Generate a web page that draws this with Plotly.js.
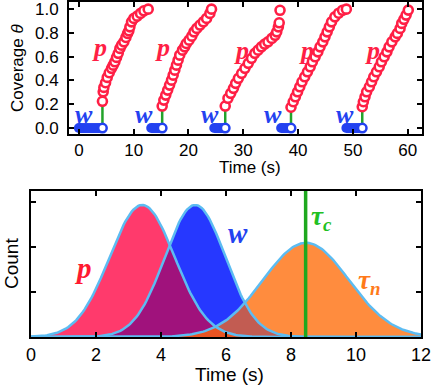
<!DOCTYPE html>
<html>
<head>
<meta charset="utf-8">
<script src="https://cdn.plot.ly/plotly-3.0.1.min.js"></script>
<style>html,body{margin:0;padding:0;background:#fff;}#chart{width:433px;height:385px;}</style>
</head>
<body>
<div id="chart"></div>
<script>
// ---------- Top panel: coverage vs time (five cycles) ----------
var wStart = [0.0, 13.2, 24.7, 36.9, 48.8];
var cycT1 = [4.3,4.44,4.56,4.87,5.17,5.54,5.96,6.26,6.57,6.87,7.18,7.48,7.79,8.21,8.58,8.88,9.12,9.31,9.61,10.04,10.64,11.25,11.86,12.65];
var cycC1 = [0.225,0.305,0.342,0.381,0.426,0.465,0.502,0.529,0.557,0.594,0.628,0.67,0.697,0.725,0.762,0.796,0.818,0.851,0.893,0.922,0.941,0.964,0.986,1.0];
var cycT2 = [15.2,15.5,15.85,16.2,16.55,16.9,17.2,17.5,17.8,18.1,18.4,18.9,19.3,19.6,20.1,20.6,21.0,21.5,22.1,22.7,23.3,23.9,24.2];
var cycC2 = [0.185,0.235,0.277,0.319,0.361,0.403,0.445,0.487,0.529,0.571,0.613,0.655,0.683,0.711,0.739,0.773,0.809,0.838,0.866,0.893,0.922,0.964,1.0];
var cycT3 = [26.7,27.2,27.7,28.2,28.6,29.1,29.7,30.3,30.9,31.5,32.1,32.7,33.3,33.9,34.5,35.2,35.8,36.1,36.4,36.55,36.7];
var cycC3 = [0.185,0.25,0.292,0.334,0.376,0.418,0.46,0.502,0.544,0.586,0.628,0.655,0.683,0.706,0.725,0.754,0.78,0.809,0.851,0.885,0.99];
var cycT4 = [38.7,39.1,39.5,39.9,40.3,40.7,41.2,41.7,42.2,42.6,43.1,43.6,44.0,44.5,44.9,45.3,45.7,46.1,46.7,47.4,48.1,48.8];
var cycC4 = [0.175,0.221,0.263,0.305,0.347,0.389,0.431,0.473,0.515,0.557,0.599,0.641,0.683,0.725,0.767,0.809,0.851,0.893,0.935,0.966,0.99,1.0];
var cycT5 = [51.7,51.9,52.2,52.5,53.0,53.4,53.8,54.3,54.8,55.2,55.7,56.2,56.6,57.1,57.7,58.1,58.6,58.9,59.3,59.7,60.1];
var cycC5 = [0.179,0.221,0.263,0.305,0.347,0.389,0.431,0.473,0.515,0.557,0.599,0.641,0.683,0.725,0.767,0.796,0.838,0.88,0.914,0.95,0.992];

var topXTicks = [0,10,20,30,40,50,60];
var topYTicks = [0,0.2,0.4,0.6,0.8,1.0];
var topYText = ['0.0','0.2','0.4','0.6','0.8','1.0'];

// ---------- Bottom panel: distributions (fitted Gaussians) ----------
var distNames = ['p','w','tn'];
var distMean  = [3.42, 5.05, 8.46];
var distSigma = [1.0, 0.93, 1.32];
var distPeak  = [2.93, 2.93, 2.09];
var tauC = 8.45;
var botXTicks = [0,2,4,6,8,10,12];
var botYTicks = [1,2,3];

var cycT = [cycT1,cycT2,cycT3,cycT4,cycT5];
var cycC = [cycC1,cycC2,cycC3,cycC4,cycC5];

var RED='#ff1f45', BLUE='#2342f0', GREEN='#22a32a';
var traces=[];
for (var i=0;i<5;i++){
  var tEnd = cycT[i][0];
  traces.push({x:[wStart[i],tEnd],y:[0,0],mode:'lines',line:{color:BLUE,width:10},xaxis:'x',yaxis:'y',hoverinfo:'skip'});
  traces.push({x:[wStart[i]],y:[0],mode:'markers',marker:{color:BLUE,size:10,line:{width:0}},xaxis:'x',yaxis:'y'});
  traces.push({x:[tEnd,tEnd],y:[0,cycC[i][0]],mode:'lines',line:{color:GREEN,width:2.5},xaxis:'x',yaxis:'y'});
  traces.push({x:[tEnd],y:[0],mode:'markers',marker:{color:'#ffffff',size:8.5,line:{color:BLUE,width:2.5}},xaxis:'x',yaxis:'y'});
  traces.push({x:cycT[i],y:cycC[i],mode:'markers',marker:{color:'#ffffff',size:9,line:{color:RED,width:2.6}},xaxis:'x',yaxis:'y'});
}

// Gaussian fit curves sampled on the bottom axis
var xs=[]; for (var k=0;k<=240;k++) xs.push(k*0.05);
function g(j,x){var d=x-distMean[j];return distPeak[j]*Math.exp(-d*d/(2*distSigma[j]*distSigma[j]));}
var ys=[0,1,2].map(function(j){return xs.map(function(x){return g(j,x);});});
function minArr(a,b){return a.map(function(v,i){return Math.min(v,b[i]);});}
var fillCols=['#ff3a6c','#2638ff','#ff8c3e'];
var order=[2,0,1];
order.forEach(function(j){
  traces.push({x:xs,y:ys[j],mode:'lines',line:{width:0},fill:'tozeroy',fillcolor:fillCols[j],xaxis:'x2',yaxis:'y2'});
});
traces.push({x:xs,y:minArr(ys[0],ys[1]),mode:'lines',line:{width:0},fill:'tozeroy',fillcolor:'#a0127c',xaxis:'x2',yaxis:'y2'});
traces.push({x:xs,y:minArr(ys[1],ys[2]),mode:'lines',line:{width:0},fill:'tozeroy',fillcolor:'#c25c52',xaxis:'x2',yaxis:'y2'});
traces.push({x:xs,y:minArr(ys[0],ys[2]),mode:'lines',line:{width:0},fill:'tozeroy',fillcolor:'#ea5422',xaxis:'x2',yaxis:'y2'});
[0,1,2].forEach(function(j){
  traces.push({x:xs,y:ys[j],mode:'lines',line:{color:'#5cbcf2',width:2.5},xaxis:'x2',yaxis:'y2'});
});
traces.push({x:[tauC,tauC],y:[0,3.24],mode:'lines',line:{color:'#1ea81e',width:3.5},xaxis:'x2',yaxis:'y2'});

var sans='Liberation Sans, Arial, sans-serif';
var axCommon={showline:true,linewidth:2,linecolor:'#000',mirror:'ticks',ticks:'inside',ticklen:5,tickwidth:2,tickcolor:'#000',showgrid:false,zeroline:false,tickfont:{family:sans,size:17,color:'#000'}};
function ax(o){var r={};for(var k in axCommon)r[k]=axCommon[k];for(var k2 in o)r[k2]=o[k2];return r;}

function px(x){return x/433;} function py(y){return 1-y/385;}
var serif='Liberation Serif, Times New Roman, serif';
var ann=[];
function A(o){o.showarrow=false;o.xanchor='center';o.yanchor='middle';ann.push(o);}
var pPos=[[3.83,0.68],[15.3,0.68],[29.75,0.655],[41.6,0.655],[53.5,0.655]];
var wPos=[[0.9,0.11],[11.9,0.11],[23.9,0.11],[35.4,0.11],[48.5,0.11]];
pPos.forEach(function(p){A({x:p[0],y:p[1],xref:'x',yref:'y',text:'<b><i>p</i></b>',font:{family:serif,size:26,color:RED}});});
wPos.forEach(function(p){A({x:p[0],y:p[1],xref:'x',yref:'y',text:'<b><i>w</i></b>',font:{family:serif,size:26,color:BLUE}});});
A({x:1.6,y:1.53,xref:'x2',yref:'y2',text:'<b><i>p</i></b>',font:{family:serif,size:29,color:'#ff1a30'}});
A({x:6.37,y:2.31,xref:'x2',yref:'y2',text:'<b><i>w</i></b>',font:{family:serif,size:29,color:BLUE}});
A({x:8.95,y:2.64,xref:'x2',yref:'y2',text:'<b><i>τ<sub>c</sub></i></b>',font:{family:serif,size:27,color:'#22c022'}});
A({x:10.43,y:1.22,xref:'x2',yref:'y2',text:'<b><i>τ<sub>n</sub></i></b>',font:{family:serif,size:27,color:'#ff7a1a'}});
A({x:px(250),y:py(168),xref:'paper',yref:'paper',text:'Time (s)',font:{family:sans,size:17,color:'#000'}});
A({x:px(229),y:py(374),xref:'paper',yref:'paper',text:'Time (s)',font:{family:sans,size:19,color:'#000'}});
A({x:px(17),y:py(68),xref:'paper',yref:'paper',text:'Coverage <i>θ</i>',textangle:-90,font:{family:sans,size:17,color:'#000'}});
A({x:px(11),y:py(264),xref:'paper',yref:'paper',text:'Count',textangle:-90,font:{family:sans,size:19,color:'#000'}});

var layout={
  width:433,height:385,margin:{l:0,r:0,t:0,b:0},paper_bgcolor:'#fff',plot_bgcolor:'#fff',showlegend:false,
  xaxis:ax({domain:[px(69),px(422)],range:[-1.8,62.6],tickvals:topXTicks,anchor:'y'}),
  yaxis:ax({domain:[py(134),py(2)],range:[-0.05,1.06],tickvals:topYTicks,ticktext:topYText,anchor:'x',ticklabelstandoff:5}),
  xaxis2:ax({domain:[px(31),px(421)],range:[0,12],tickvals:botXTicks,anchor:'y2',tickfont:{family:sans,size:18,color:'#000'}}),
  yaxis2:ax({domain:[py(337),py(191)],range:[0,3.24],tickvals:botYTicks,showticklabels:false,anchor:'x2'}),
  annotations:ann
};
Plotly.newPlot('chart',traces,layout,{displayModeBar:false,staticPlot:true});
</script>
</body>
</html>
